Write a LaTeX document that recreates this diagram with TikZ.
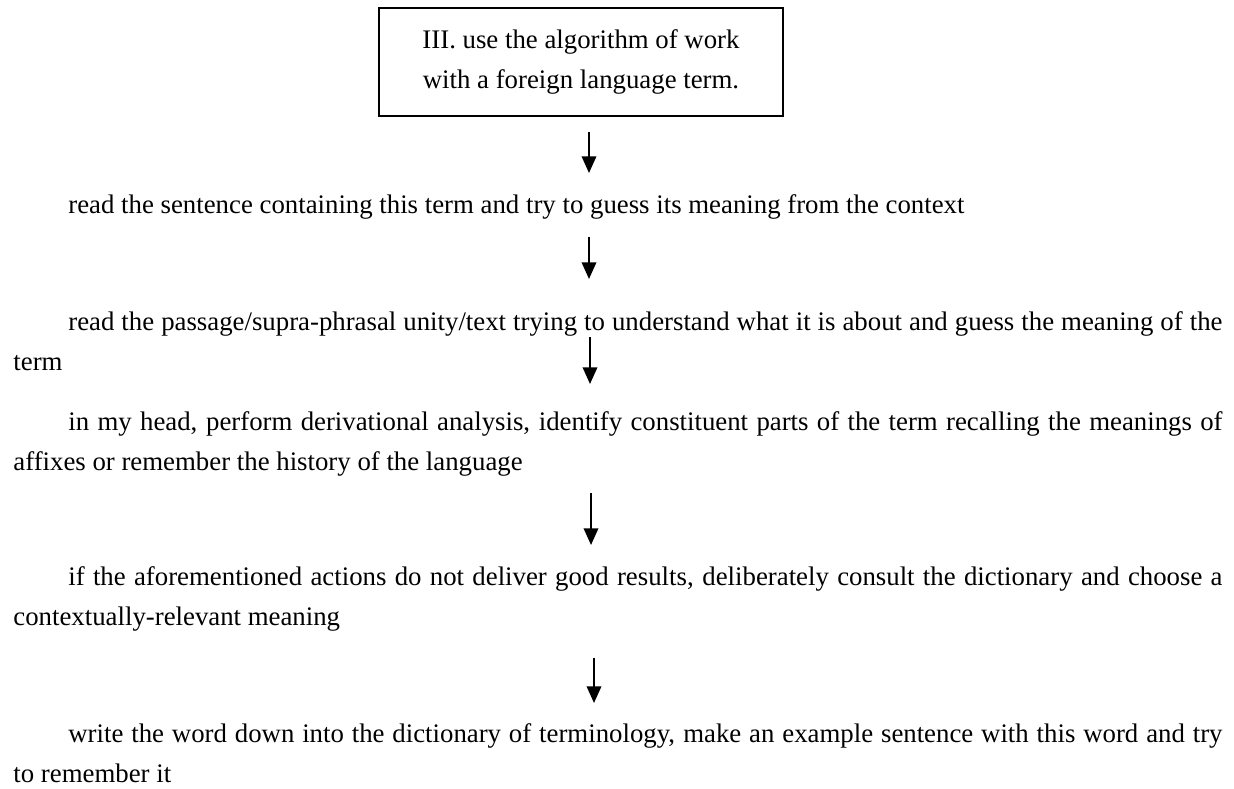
\documentclass[tikz,border=0pt]{standalone}
\usepackage{fontspec}
\setmainfont{Liberation Serif}
\usetikzlibrary{arrows.meta}

\tikzset{
  stepbox/.style={draw, line width=0.9pt, minimum width=180.9pt, minimum height=48.4pt,
    align=center, inner sep=0pt, font=\fontsize{12pt}{18pt}\selectfont},
  steptext/.style={anchor=base west, inner sep=0pt, text width=541.4pt, align=justify,
    font={\fontsize{12pt}{18pt}\selectfont\hyphenpenalty 10000 \exhyphenpenalty 10000 }},
  flow/.style={-{Triangle[length=7.5pt,width=6.5pt]}, line width=0.9pt}
}
\newcommand{\stepindent}{\hspace*{24.6pt}}

\begin{document}
\begin{tikzpicture}[x=0.4478pt,y=-0.4478pt]
  \useasboundingbox (0,0) rectangle (1234,788);

  % the heading box
  \node[stepbox] (head) at (581,62) {III. use the algorithm of work\\with a foreign language term.};

  % the steps of the algorithm
  \node[steptext] (context) at (13,213) {\stepindent read the sentence containing this term and try to guess its meaning from the context};
  \node[steptext] (passage) at (13,330) {\stepindent read the passage/supra-phrasal unity/text trying to understand what it is about and guess the meaning of the term};
  \node[steptext] (analysis) at (13,430) {\stepindent in my head, perform derivational analysis, identify constituent parts of the term recalling the meanings of affixes or remember the history of the language};
  \node[steptext] (dictionary) at (13,585) {\stepindent if the aforementioned actions do not deliver good results, deliberately consult the dictionary and choose a contextually-relevant meaning};
  \node[steptext] (record) at (13,742) {\stepindent write the word down into the dictionary of terminology, make an example sentence with this word and try\linebreak to remember it};

  % ends of the arrows
  \coordinate (head out)       at (589,132);
  \coordinate (context in)     at (589,173);
  \coordinate (context out)    at (589,237);
  \coordinate (passage in)     at (589,279);
  \coordinate (passage out)    at (590,337);
  \coordinate (analysis in)    at (590,384);
  \coordinate (analysis out)   at (591,493);
  \coordinate (dictionary in)  at (591,545);
  \coordinate (dictionary out) at (594,658);
  \coordinate (record in)      at (594,703);

  % arrows between the steps
  \draw[flow] (head out) -- (context in);
  \draw[flow] (context out) -- (passage in);
  \draw[flow] (passage out) -- (analysis in);
  \draw[flow] (analysis out) -- (dictionary in);
  \draw[flow] (dictionary out) -- (record in);
\end{tikzpicture}
\end{document}
